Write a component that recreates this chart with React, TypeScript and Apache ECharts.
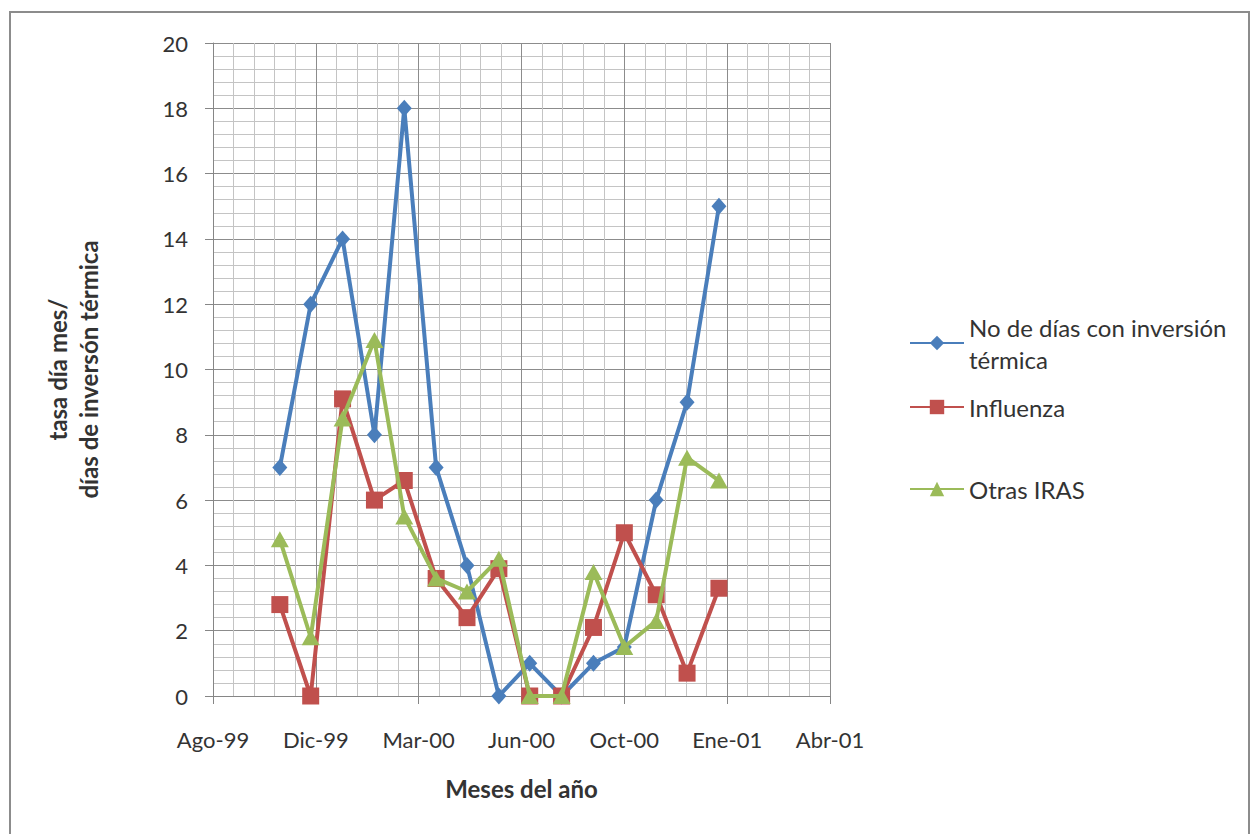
import { useEffect, useRef } from 'react';
import * as echarts from 'echarts';

// Monthly observations (first day of each month)
const months = [
  '1999-11', '1999-12', '2000-01', '2000-02', '2000-03', '2000-04', '2000-05', '2000-06',
  '2000-07', '2000-08', '2000-09', '2000-10', '2000-11', '2000-12', '2001-01',
];
const inversionDays = [7, 12, 14, 8, 18, 7, 4, 0, 1, 0, 1, 1.5, 6, 9, 15];
const influenza = [2.8, 0, 9.1, 6, 6.6, 3.6, 2.4, 3.9, 0, 0, 2.1, 5, 3.1, 0.7, 3.3];
const otrasIras = [4.8, 1.8, 8.5, 10.9, 5.5, 3.6, 3.2, 4.2, 0, 0, 3.8, 1.5, 2.3, 7.3, 6.6];

const seriesNames = ['No de días con inversión térmica', 'Influenza', 'Otras IRAS'];
const monthAbbr = ['Ene', 'Feb', 'Mar', 'Abr', 'May', 'Jun', 'Jul', 'Ago', 'Sep', 'Oct', 'Nov', 'Dic'];

// Date axis in spreadsheet serial days
const xMin = 36400;
const xMax = 37000;
const xStep = 100;
const yMin = 0;
const yMax = 20;
const yStep = 2;

const EPOCH = Date.UTC(1899, 11, 30);
const DAY = 86400000;

function toSerial(ym: string): number {
  const [y, m] = ym.split('-').map(Number);
  return Math.round((Date.UTC(y, m - 1, 1) - EPOCH) / DAY);
}

function serialLabel(v: number): string {
  const d = new Date(EPOCH + v * DAY);
  const yy = String(d.getUTCFullYear() % 100).padStart(2, '0');
  return `${monthAbbr[d.getUTCMonth()]}-${yy}`;
}

const FONT = 'Lato, "Open Sans", sans-serif';
const TEXT = '#333333';
const COLORS = ['#4A7EBB', '#C0504D', '#9BBB59'];

export default function App() {
  const ref = useRef<HTMLDivElement>(null);

  useEffect(() => {
    if (!ref.current) return;
    const chart = echarts.init(ref.current, null, { renderer: 'svg' });
    const xs = months.map(toSerial);
    const pair = (vals: number[]) => xs.map((x, i) => [x, vals[i]]);

    const legendBase = {
      orient: 'horizontal' as const,
      left: 904,
      itemWidth: 54,
      itemHeight: 18,
      itemGap: 0,
      selectedMode: false,
      textStyle: { fontFamily: FONT, fontSize: 24, color: TEXT },
    };

    chart.setOption({
      animation: false,
      backgroundColor: '#ffffff',
      textStyle: { fontFamily: FONT },
      grid: { left: 213, top: 43, right: 422, bottom: 138, containLabel: false },
      xAxis: {
        type: 'value',
        min: xMin,
        max: xMax,
        interval: xStep,
        name: 'Meses del año',
        nameLocation: 'middle',
        nameGap: 80,
        nameTextStyle: { fontFamily: FONT, fontSize: 24, fontWeight: 'bold', color: TEXT },
        axisLine: { show: true, onZero: false, lineStyle: { color: '#868686', width: 1 } },
        axisTick: { show: true, inside: false, length: 8, lineStyle: { color: '#868686' } },
        axisLabel: { margin: 32, fontFamily: FONT, fontSize: 22, color: TEXT, formatter: serialLabel },
        splitLine: { show: true, lineStyle: { color: '#8c8c8c', width: 1 } },
        minorTick: { show: false, splitNumber: 5 },
        minorSplitLine: { show: true, lineStyle: { color: '#c4c4c4', width: 1 } },
      },
      yAxis: {
        type: 'value',
        min: yMin,
        max: yMax,
        interval: yStep,
        name: 'tasa día mes/\ndías de inversón térmica',
        nameLocation: 'middle',
        nameRotate: 90,
        nameGap: 109,
        nameTextStyle: { fontFamily: FONT, fontSize: 24, fontWeight: 'bold', color: TEXT, lineHeight: 31 },
        axisLine: { show: true, lineStyle: { color: '#868686', width: 1 } },
        axisTick: { show: true, inside: false, length: 8, lineStyle: { color: '#868686' } },
        axisLabel: { margin: 25, fontFamily: FONT, fontSize: 22, color: TEXT },
        splitLine: { show: true, lineStyle: { color: '#8c8c8c', width: 1 } },
        minorTick: { show: false, splitNumber: 5 },
        minorSplitLine: { show: true, lineStyle: { color: '#c4c4c4', width: 1 } },
      },
      legend: [
        {
          ...legendBase,
          top: 290,
          data: [seriesNames[0]],
          formatter: () => 'No de días con inversión\ntérmica',
          textStyle: { ...legendBase.textStyle, lineHeight: 32, padding: [32, 0, 0, 0] },
        },
        { ...legendBase, top: 390, data: [seriesNames[1]] },
        { ...legendBase, top: 472, data: [seriesNames[2]] },
      ],
      graphic: [
        {
          type: 'rect',
          silent: true,
          shape: { x: 10, y: 12, width: 1239, height: 900 },
          style: { fill: 'none', stroke: '#8c8c8c', lineWidth: 2 },
        },
      ],
      series: [
        {
          name: seriesNames[0],
          type: 'line',
          data: pair(inversionDays),
          color: COLORS[0],
          symbol: 'diamond',
          symbolSize: [15, 17],
          lineStyle: { width: 4, color: COLORS[0] },
          itemStyle: { color: COLORS[0] },
          z: 3,
        },
        {
          name: seriesNames[1],
          type: 'line',
          data: pair(influenza),
          color: COLORS[1],
          symbol: 'rect',
          symbolSize: 17,
          lineStyle: { width: 4, color: COLORS[1] },
          itemStyle: { color: COLORS[1] },
          z: 4,
        },
        {
          name: seriesNames[2],
          type: 'line',
          data: pair(otrasIras),
          color: COLORS[2],
          symbol: 'triangle',
          symbolSize: [18, 16],
          lineStyle: { width: 4, color: COLORS[2] },
          itemStyle: { color: COLORS[2] },
          z: 5,
        },
      ],
    });
    return () => chart.dispose();
  }, []);

  return (
    <div
      ref={ref}
      style={{ position: 'fixed', left: 0, top: 0, width: 1252, height: 834, background: '#fff' }}
    />
  );
}
